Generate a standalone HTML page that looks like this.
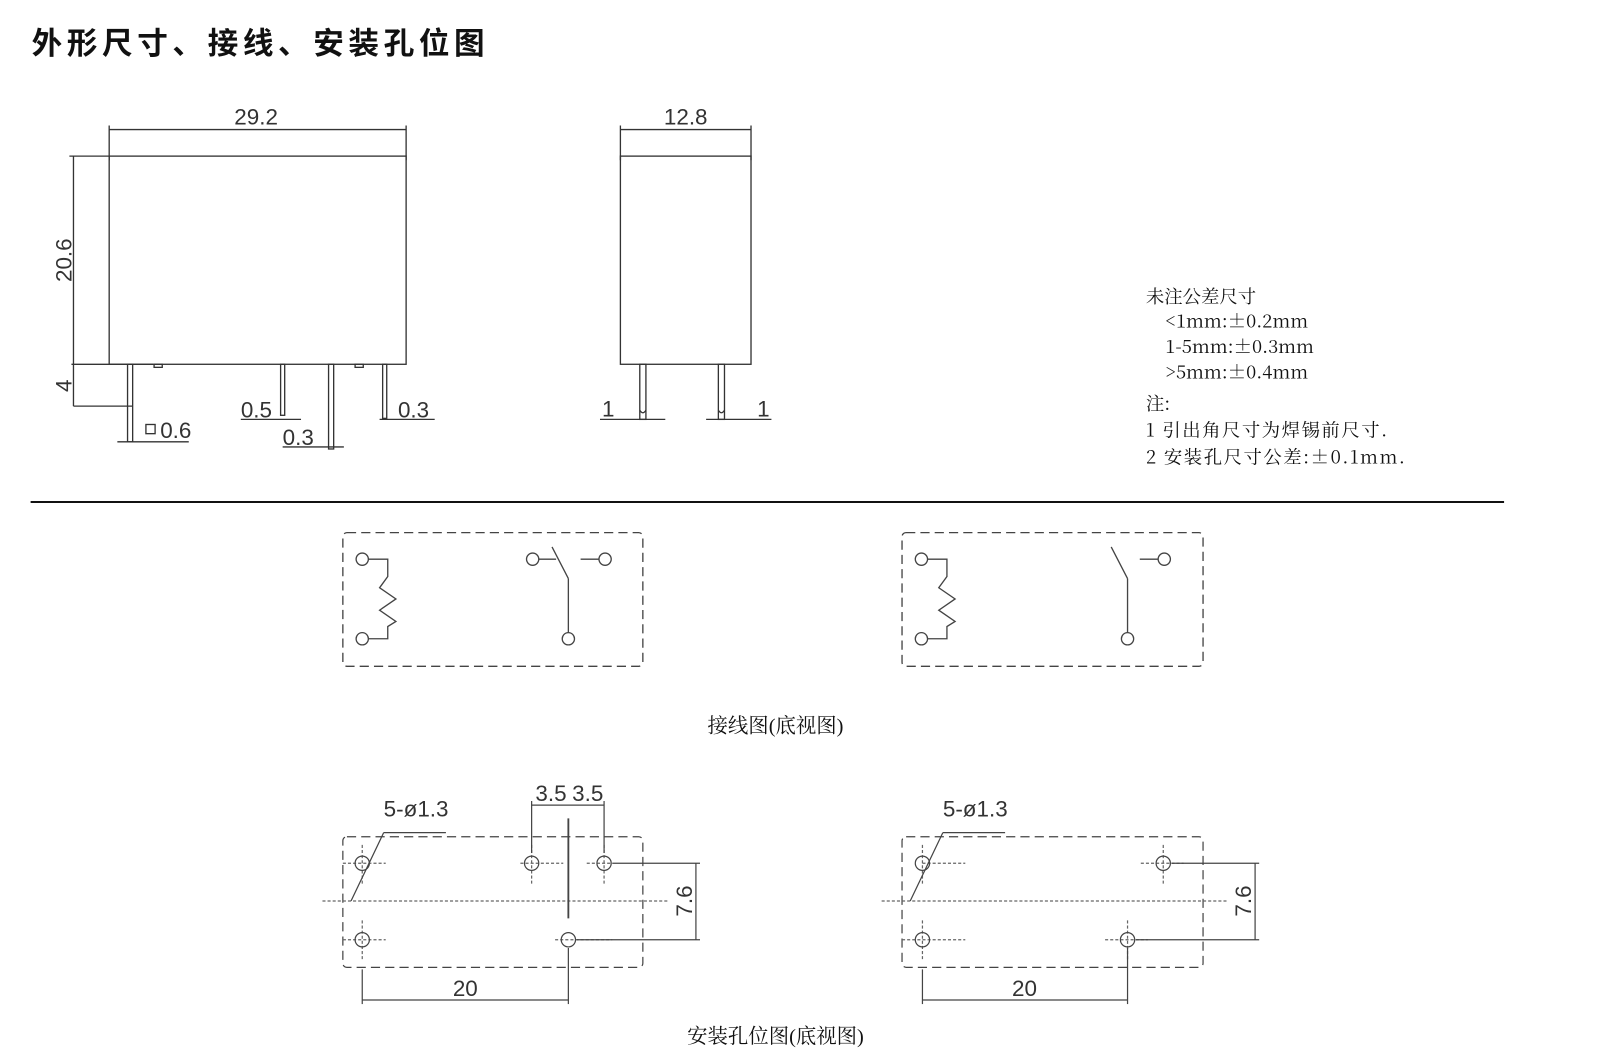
<!DOCTYPE html>
<html><head><meta charset="utf-8"><style>
html,body{margin:0;padding:0;background:#fff;}
svg{display:block;}
.cj{font-family:"Liberation Serif","Noto Serif CJK SC","Noto Sans CJK SC",serif;fill:#111;}
.nt{font-family:"Noto Serif CJK SC","Noto Sans CJK SC",serif;fill:#111;}
.dm{font-family:"Liberation Sans",sans-serif;fill:#333;font-size:22px;}
</style></head><body>
<svg width="1600" height="1057" viewBox="0 0 1600 1057" xmlns="http://www.w3.org/2000/svg">
<g transform="scale(1.0204)">
<text x="31" y="53" class="cj" font-size="30" font-weight="bold" letter-spacing="4.5" style="font-family:'Noto Sans CJK SC',sans-serif">外形尺寸、接线、安装孔位图</text>

<g stroke="#333" stroke-width="1.3" fill="none">
<rect x="107" y="153" width="291" height="204"/>
<line x1="107" y1="123" x2="107" y2="157"/><line x1="398" y1="123" x2="398" y2="157"/>
<line x1="107" y1="127" x2="398" y2="127"/>
<line x1="72" y1="153" x2="72" y2="398"/><line x1="68" y1="153" x2="107" y2="153"/>
<line x1="70" y1="357" x2="150" y2="357"/><line x1="72" y1="398" x2="130" y2="398"/>
<rect x="151" y="357" width="8" height="3"/><rect x="348" y="357" width="8" height="3"/>
<rect x="125" y="357" width="5" height="76"/>
<rect x="275" y="357" width="4" height="50"/>
<rect x="322" y="357" width="5" height="83"/>
<rect x="375" y="357" width="4" height="53"/>
<line x1="115" y1="433" x2="185" y2="433"/>
<line x1="236" y1="411" x2="295" y2="411"/>
<line x1="277" y1="438" x2="337" y2="438"/>
<line x1="372" y1="411" x2="426" y2="411"/>
<rect x="143" y="416" width="9" height="9"/>
<rect x="608" y="153" width="128" height="204"/>
<line x1="608" y1="123" x2="608" y2="157"/><line x1="736" y1="123" x2="736" y2="157"/>
<line x1="608" y1="127" x2="736" y2="127"/>
<rect x="627" y="357" width="6" height="54"/>
<rect x="704" y="357" width="6" height="54"/>
<path d="M627 402 q3 5 6 0 M704 402 q3 5 6 0"/>
<line x1="588" y1="411" x2="652" y2="411"/>
<line x1="692" y1="411" x2="756" y2="411"/>
</g>
<text x="251" y="122" class="dm" text-anchor="middle">29.2</text>
<text transform="translate(70,255) rotate(-90)" class="dm" text-anchor="middle">20.6</text>
<text transform="translate(70,378) rotate(-90)" class="dm" text-anchor="middle">4</text>
<text x="157" y="429" class="dm">0.6</text>
<text x="236" y="409" class="dm">0.5</text>
<text x="277" y="436" class="dm">0.3</text>
<text x="390" y="409" class="dm">0.3</text>
<text x="672" y="122" class="dm" text-anchor="middle">12.8</text>
<text x="590" y="408" class="dm">1</text>
<text x="742" y="408" class="dm">1</text>

<g class="nt" font-size="18">
<text x="1123" y="297">未注公差尺寸</text>
<text x="1142" y="321">&lt;1mm:±0.2mm</text>
<text x="1142" y="346">1-5mm:±0.3mm</text>
<text x="1142" y="371">&gt;5mm:±0.4mm</text>
<text x="1123" y="402">注:</text>
<text x="1123" y="428" letter-spacing="1.5">1 引出角尺寸为焊锡前尺寸.</text>
<text x="1123" y="454" letter-spacing="1.5">2 安装孔尺寸公差:±0.1mm.</text>
</g>

<line x1="30" y1="492" x2="1474" y2="492" stroke="#111" stroke-width="2"/>

<g stroke="#444" stroke-width="1.3" fill="none">
<rect x="336" y="522" width="294" height="131" rx="4" stroke-dasharray="9,5"/>
<rect x="884" y="522" width="295" height="131" rx="4" stroke-dasharray="9,5"/>
<g id="coil">
<circle cx="355" cy="548" r="6"/><circle cx="355" cy="626" r="6"/>
<path d="M361 548 H380 V565 L372 576 L388 587 L372 598 L388 609 L380 614 V626 H361"/>
</g>
<use href="#coil" x="548"/>
<circle cx="522" cy="548" r="6"/><line x1="528" y1="548" x2="545" y2="548"/>
<line x1="541" y1="536" x2="557" y2="567"/><line x1="557" y1="567" x2="557" y2="620"/>
<circle cx="557" cy="626" r="6"/>
<circle cx="593" cy="548" r="6"/><line x1="569" y1="548" x2="587" y2="548"/>
<line x1="1089" y1="536" x2="1105" y2="567"/><line x1="1105" y1="567" x2="1105" y2="620"/>
<circle cx="1105" cy="626" r="6"/>
<circle cx="1141" cy="548" r="6"/><line x1="1117" y1="548" x2="1135" y2="548"/>
</g>
<text x="760" y="718" class="cj" font-size="20" text-anchor="middle">接线图(底视图)</text>

<g stroke="#444" stroke-width="1.2" fill="none">
<rect x="336" y="820" width="294" height="128" rx="4" stroke-dasharray="9,5"/>
<rect x="884" y="820" width="295" height="128" rx="4" stroke-dasharray="9,5"/>
<g stroke-dasharray="3,2" stroke="#666">
<line x1="316" y1="883" x2="655" y2="883"/>
<line x1="864" y1="883" x2="1203" y2="883"/>
<path d="M336 846 H378 M355 828 V866 M510 846 H552 M521 828 V866 M575 846 H600 M592 828 V866 M336 921 H378 M355 902 V940 M544 921 H600 M904 846 H946 M904 828 V866 M1118 846 H1160 M1140 828 V866 M904 902 V940 M884 921 H946 M1083 921 H1125 M1105 902 V940"/>
</g>
<circle cx="355" cy="846" r="7"/><circle cx="521" cy="846" r="7"/><circle cx="592" cy="846" r="7"/>
<circle cx="355" cy="921" r="7"/><circle cx="557" cy="921" r="7"/>
<circle cx="904" cy="846" r="7"/><circle cx="1140" cy="846" r="7"/>
<circle cx="904" cy="921" r="7"/><circle cx="1105" cy="921" r="7"/>
<line x1="557" y1="802" x2="557" y2="900" stroke-width="1.8"/>
<line x1="521" y1="785" x2="521" y2="836"/><line x1="592" y1="785" x2="592" y2="836"/>
<line x1="521" y1="789" x2="592" y2="789"/>
<line x1="376" y1="816" x2="437" y2="816"/><line x1="376" y1="816" x2="344" y2="883"/>
<line x1="924" y1="816" x2="985" y2="816"/><line x1="924" y1="816" x2="892" y2="883"/>
<line x1="600" y1="846" x2="686" y2="846"/><line x1="565" y1="921" x2="686" y2="921"/><line x1="682" y1="846" x2="682" y2="921"/>
<line x1="1148" y1="846" x2="1234" y2="846"/><line x1="1113" y1="921" x2="1234" y2="921"/><line x1="1230" y1="846" x2="1230" y2="921"/>
<line x1="355" y1="950" x2="355" y2="984"/><line x1="557" y1="929" x2="557" y2="984"/><line x1="355" y1="980" x2="557" y2="980"/>
<line x1="904" y1="950" x2="904" y2="984"/><line x1="1105" y1="929" x2="1105" y2="984"/><line x1="904" y1="980" x2="1105" y2="980"/>
</g>
<text x="540" y="785" class="dm" text-anchor="middle">3.5</text>
<text x="576" y="785" class="dm" text-anchor="middle">3.5</text>
<text x="376" y="800" class="dm">5-ø1.3</text>
<text x="924" y="800" class="dm">5-ø1.3</text>
<text transform="translate(678,883) rotate(-90)" class="dm" text-anchor="middle">7.6</text>
<text transform="translate(1226,883) rotate(-90)" class="dm" text-anchor="middle">7.6</text>
<text x="456" y="976" class="dm" text-anchor="middle">20</text>
<text x="1004" y="976" class="dm" text-anchor="middle">20</text>
<text x="760" y="1022" class="cj" font-size="20" text-anchor="middle">安装孔位图(底视图)</text>
</g>
</svg>
</body></html>
